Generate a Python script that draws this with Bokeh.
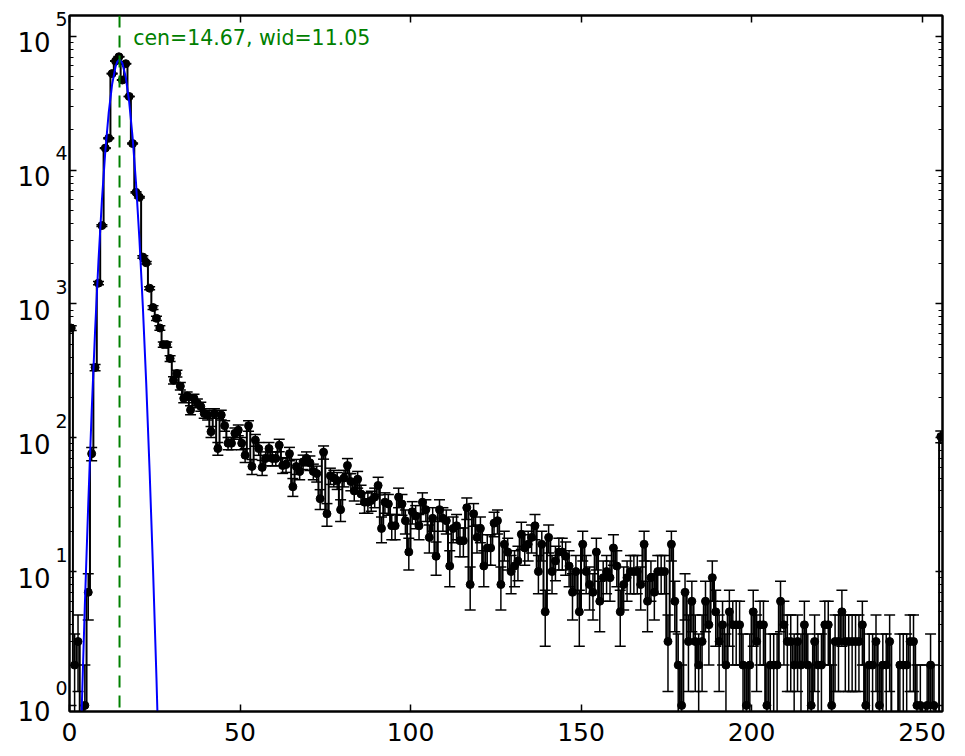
import numpy as np
from bokeh.plotting import figure
from bokeh.models import (FixedTicker, LinearAxis, LogAxis, Range1d, Label,
                          CustomJSTickFormatter, Span)
from bokeh.embed import file_html
from bokeh.resources import INLINE

# ---------------- data ----------------
counts = [
    660, 2, 3, 0, 1, 7, 76, 335, 1430, 3850,
    14600, 17300, 52600, 65300, 70300, 47100, 62400, 35500, 15800, 6820,
    6270, 2240, 2030, 1310, 940, 780, 661, 497, 497, 391,
    269, 302, 243, 197, 205, 161, 197, 181, 171, 152,
    148, 111, 152, 83, 148, 123, 91, 91, 108, 114,
    91, 74, 123, 61, 96, 83, 60, 70, 83, 70,
    70, 88, 62, 63, 76, 43, 61, 56, 66, 70,
    65, 56, 54, 35, 78, 27, 52, 50, 48, 29,
    50, 62, 47, 40, 49, 38, 33, 33, 34, 36,
    44, 21, 33, 32, 22, 22, 36, 32, 24, 14,
    28, 26, 22, 33, 29, 18, 25, 13, 29, 25,
    24, 11, 21, 22, 17, 17, 30, 8, 27, 18,
    21, 11, 15, 15, 23, 24, 8, 16, 14, 10,
    11, 12, 19, 15, 16, 18, 22, 10, 16, 5,
    18, 10, 12, 14, 14, 13, 11, 7, 10, 5,
    16, 10, 8, 7, 14, 6, 9, 10, 9, 15,
    11, 5, 8, 9, 10, 10, 10, 8, 16, 6,
    9, 7, 10, 10, 10, 3, 16, 6, 2, 1,
    7, 3, 6, 3, 2, 3, 6, 4, 9, 5,
    3, 4, 2, 5, 4, 4, 4, 2, 1, 2,
    5, 3, 4, 4, 1, 2, 2, 2, 6, 4,
    3, 3, 2, 3, 2, 4, 2, 1, 3, 2,
    2, 4, 4, 1, 3, 3, 5, 3, 3, 3,
    3, 3, 4, 1, 2, 2, 3, 1, 2, 2,
    3, 0, 0, 2, 2, 2, 3, 3, 1, 1,
    0, 1, 2, 1, 0, 102,
]

# fitted gaussian curve
fit_x = [2.5, 3.5, 4.5, 5.5, 6.5, 7.5, 8.5, 9.5, 10.5, 11.5, 12.5, 13.5, 14.0,
         14.67, 15.5, 16.5, 17.5, 18.5, 19.5, 20.5, 21.5, 22.5, 23.5, 24.5,
         25.5, 26.5]
fit_y = [0.096, 0.80, 5.6, 32, 156, 628, 2110, 5910, 13800, 26900, 43700,
         59200, 64300, 67000, 62900, 49400, 32400, 17600, 8050, 3050, 967,
         255, 56, 10.3, 1.6, 0.20]

fit_center = 14.67
fit_width = 11.05

x_tick_values = [0, 50, 100, 150, 200, 250]
y_tick_exponents = [0, 1, 2, 3, 4, 5]

# ---------------- derived arrays ----------------
c = np.array(counts, dtype=float)
xb = np.arange(len(c)) + 0.5
nz = c > 0
line_y = np.where(nz, c, 1e-3)
err = np.sqrt(c[nz])
lo = np.maximum(c[nz] - err, 1e-3)
hi = c[nz] + err

FONT = "DejaVu Sans"
Y0, Y1 = 0.9, 1.43e5
PX_PER_DEC = 133.8          # pixels per decade on the y axis
f_base = 10 ** (6.0 / PX_PER_DEC)     # shift of the "10" labels (down)
f_exp = 10 ** (-17.0 / PX_PER_DEC)    # shift of the exponent labels (up)

p = figure(width=960, height=754, y_axis_type="log",
           x_range=Range1d(0, 256), y_range=Range1d(Y0, Y1),
           output_backend="svg", toolbar_location=None, title=None,
           min_border_left=69, min_border_right=18,
           min_border_top=15, min_border_bottom=43)
p.extra_y_ranges = {
    "base": Range1d(Y0 * f_base, Y1 * f_base),
    "expo": Range1d(Y0 * f_exp, Y1 * f_exp),
}

p.xgrid.visible = False
p.ygrid.visible = False
p.outline_line_color = "black"
p.outline_line_width = 2
p.background_fill_color = "white"

yticks = [10.0 ** e for e in y_tick_exponents]
yminor = [m * 10.0 ** e for e in range(0, 6) for m in range(2, 10) if m * 10.0 ** e < Y1]


def style_ticks(ax):
    ax.major_tick_in = 7
    ax.major_tick_out = 0
    ax.minor_tick_in = 4
    ax.minor_tick_out = 0
    ax.major_tick_line_color = "black"
    ax.minor_tick_line_color = "black"
    ax.major_tick_line_width = 1.5
    ax.minor_tick_line_width = 1.2
    ax.axis_line_color = "black"
    ax.axis_line_width = 2


def style_label_axis(ax):
    ax.major_tick_in = 0
    ax.major_tick_out = 0
    ax.minor_tick_in = 0
    ax.minor_tick_out = 0
    ax.major_tick_line_color = None
    ax.minor_tick_line_color = None
    ax.axis_line_color = None


# bottom axis: ticks + numbers
xa = p.xaxis[0]
xa.ticker = FixedTicker(ticks=x_tick_values, minor_ticks=[])
style_ticks(xa)
xa.major_label_text_font = FONT
xa.major_label_text_font_size = "25px"
xa.major_label_text_color = "black"
xa.major_label_standoff = 11

# left axis: ticks only
ya = p.yaxis[0]
ya.ticker = FixedTicker(ticks=yticks, minor_ticks=yminor)
style_ticks(ya)
ya.major_label_text_color = None
ya.major_label_standoff = 0

# left label axes: exponent (inner) and "10" (outer)
exp_ax = LogAxis(y_range_name="expo", ticker=FixedTicker(ticks=yticks, minor_ticks=[]),
                 formatter=CustomJSTickFormatter(code="return Math.round(Math.log10(tick)).toString()"))
style_label_axis(exp_ax)
exp_ax.major_label_text_font = FONT
exp_ax.major_label_text_font_size = "19px"
exp_ax.major_label_text_color = "black"
exp_ax.major_label_standoff = 2
p.add_layout(exp_ax, "left")

base_ax = LogAxis(y_range_name="base", ticker=FixedTicker(ticks=yticks, minor_ticks=[]),
                  formatter=CustomJSTickFormatter(code="return '10'"))
style_label_axis(base_ax)
base_ax.major_label_text_font = FONT
base_ax.major_label_text_font_size = "26px"
base_ax.major_label_text_color = "black"
base_ax.major_label_standoff = 2
p.add_layout(base_ax, "left")

# top and right axes: ticks only
top_ax = LinearAxis(ticker=FixedTicker(ticks=x_tick_values, minor_ticks=[]))
style_ticks(top_ax)
top_ax.major_label_text_color = None
top_ax.major_label_standoff = 0
p.add_layout(top_ax, "above")
right_ax = LogAxis(ticker=FixedTicker(ticks=yticks, minor_ticks=yminor))
style_ticks(right_ax)
right_ax.major_label_text_color = None
right_ax.major_label_standoff = 0
p.add_layout(right_ax, "right")

# data: steps-mid line, error bars, caps, points
p.step(xb, line_y, mode="center", line_color="black", line_width=2)
p.segment(x0=xb[nz], y0=lo, x1=xb[nz], y1=hi, line_color="black", line_width=1.5)
p.scatter(xb[nz], hi, marker="dash", size=11, line_color="black", line_width=1.5)
p.scatter(xb[nz], lo, marker="dash", size=11, line_color="black", line_width=1.5)
p.scatter(xb[nz], c[nz], marker="circle", size=8, fill_color="black", line_color="black")

# fit curve
p.line(fit_x, fit_y, line_color="#0000ff", line_width=2)

# centre marker and fit text
p.add_layout(Span(location=fit_center, dimension="height", line_color="#008000",
                  line_dash="12 8", line_width=2))
p.add_layout(Label(x=fit_center + 4, y=97000, text=f"cen={fit_center:.2f}, wid={fit_width:.2f}",
                   text_color="#008000", text_font=FONT, text_font_size="20.5px",
                   text_baseline="alphabetic", text_align="left"))

open("out.html", "w").write(file_html(p, INLINE))
